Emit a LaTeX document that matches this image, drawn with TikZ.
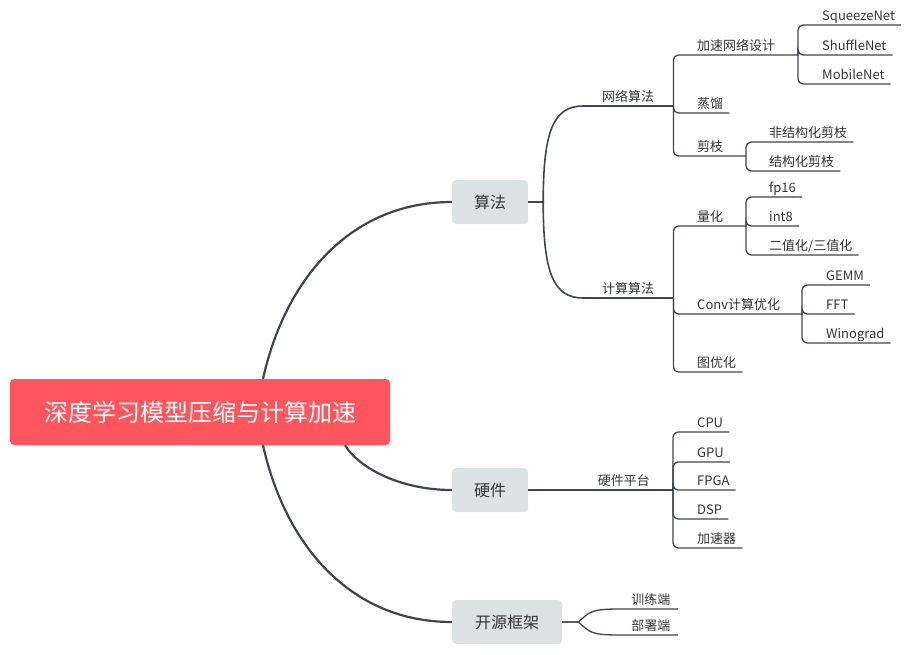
\documentclass[tikz,border=0pt]{standalone}
\usepackage{fontspec}
\setmainfont{Noto Sans CJK SC}
\usepackage{xcolor}
\usetikzlibrary{calc}
\definecolor{rootred}{HTML}{FF555C}
\definecolor{topicgray}{HTML}{DCE2E4}
\definecolor{linegray}{HTML}{3E4551}
\definecolor{textgray}{HTML}{333333}
\tikzset{
    rootbox/.style={draw=none, fill=rootred, rounded corners=4pt, minimum width=380pt, minimum height=66pt, text=white, font=\fontsize{24}{27}\selectfont},
    topicbox/.style={draw=none, fill=topicgray, rounded corners=4pt, minimum width=76pt, minimum height=44pt, text=textgray, font=\fontsize{16}{18}\selectfont},
    midtopic/.style={inner xsep=0pt, inner ysep=4pt, text depth=0pt, text=textgray, font=\fontsize{13}{15}\selectfont},
    leaf/.style={anchor=south west, inner xsep=6pt, inner ysep=4pt, text depth=0pt, text=textgray, font=\fontsize{13}{15}\selectfont},
    mainline/.style={draw=linegray, line width=2.2pt},
    branchline/.style={draw=linegray, line width=1.6pt},
    leafline/.style={draw=linegray, line width=1.3pt, rounded corners=5pt},
}

\begin{document}
\begin{tikzpicture}[x=1pt, y=-1pt]
    \useasboundingbox (0,0) rectangle (909,655);

    % Root
    \node[rootbox] (root) at (200,412) {深度学习模型压缩与计算加速};

    % Main topics
    \node[topicbox] (algo) at (490,202) {算法};
    \node[topicbox] (hw) at (490,490) {硬件};
    \node[topicbox, minimum width=110pt] (oss) at (507,622) {开源框架};

    \draw[mainline] ([xshift=63pt]root.north) .. controls +(22,-99) and +(-102,0) .. (algo.west);
    \draw[mainline] ([xshift=145pt]root.south) .. controls +(15,24) and +(-50,0) .. (hw.west);
    \draw[mainline] ([xshift=63pt]root.south) .. controls +(22,99) and +(-102,0) .. (oss.west);

    % 算法
    \node[midtopic, anchor=south west, minimum width=90pt] (netalg) at (583,106) {网络算法};
    \node[midtopic, anchor=south west, minimum width=90pt] (compalg) at (583,298) {计算算法};
    \draw[branchline] (algo.east) -- ++(15,0) .. controls +(0,-70) and +(-30,0) .. (netalg.south west) -- (netalg.south east);
    \draw[branchline] (algo.east) -- ++(15,0) .. controls +(0,70) and +(-30,0) .. (compalg.south west) -- (compalg.south east);

    % 网络算法
    \node[leaf] (accel) at (691,55) {加速网络设计};
    \node[leaf] (distill) at (691,113) {蒸馏};
    \node[leaf] (prune) at (691,156) {剪枝};
    \coordinate (accelfork) at (798,55);
    \coordinate (prunefork) at (746,156);
    \draw[leafline] (netalg.south east) |- (accelfork);
    \draw[leafline] (netalg.south east) |- (distill.south east);
    \draw[leafline] (netalg.south east) |- (prunefork);

    \node[leaf] (squeeze) at (816,25) {SqueezeNet};
    \node[leaf] (shuffle) at (816,55) {ShuffleNet};
    \node[leaf] (mobile) at (816,84) {MobileNet};
    \foreach \n in {squeeze, shuffle, mobile}
        \draw[leafline] (accelfork) |- (\n.south east);

    \node[leaf] (unstruct) at (763,142) {非结构化剪枝};
    \node[leaf] (struct) at (763,171) {结构化剪枝};
    \foreach \n in {unstruct, struct}
        \draw[leafline] (prunefork) |- (\n.south east);

    % 计算算法
    \node[leaf] (quant) at (691,226) {量化};
    \node[leaf] (convopt) at (691,314) {Conv计算优化};
    \node[leaf] (graphopt) at (691,372) {图优化};
    \coordinate (quantfork) at (746,226);
    \coordinate (convfork) at (802,314);
    \draw[leafline] (compalg.south east) |- (quantfork);
    \draw[leafline] (compalg.south east) |- (convfork);
    \draw[leafline] (compalg.south east) |- (graphopt.south east);

    \node[leaf] (fpsixteen) at (763,197) {fp16};
    \node[leaf] (inteight) at (763,226) {int8};
    \node[leaf] (binary) at (763,255) {二值化/三值化};
    \foreach \n in {fpsixteen, inteight, binary}
        \draw[leafline] (quantfork) |- (\n.south east);

    \node[leaf] (gemm) at (820,285) {GEMM};
    \node[leaf] (fft) at (820,314) {FFT};
    \node[leaf] (winograd) at (820,343) {Winograd};
    \foreach \n in {gemm, fft, winograd}
        \draw[leafline] (convfork) |- (\n.south east);

    % 硬件
    \node[midtopic, anchor=south east, minimum width=98pt] (hwplat) at (673,490) {硬件平台};
    \draw[branchline] (hw.east) -- (hwplat.south east);

    \node[leaf] (cpu) at (691,432) {CPU};
    \node[leaf] (gpu) at (691,462) {GPU};
    \node[leaf] (fpga) at (691,490) {FPGA};
    \node[leaf] (dsp) at (691,519) {DSP};
    \node[leaf] (accelerator) at (691,548) {加速器};
    \foreach \n in {cpu, gpu, fpga, dsp, accelerator}
        \draw[leafline] (hwplat.south east) |- (\n.south east);

    % 开源框架
    \node[midtopic, anchor=south east, minimum width=54pt] (train) at (678,609) {训练端};
    \node[midtopic, anchor=south east, minimum width=54pt] (deploy) at (678,635) {部署端};
    \draw[leafline, rounded corners=0pt] (oss.east) -- ++(16,0) .. controls +(12,-10) and +(-30,0) .. ([xshift=-4pt]train.south west) -- (train.south east);
    \draw[leafline, rounded corners=0pt] (oss.east) -- ++(16,0) .. controls +(12,10) and +(-30,0) .. ([xshift=-4pt]deploy.south west) -- (deploy.south east);
\end{tikzpicture}
\end{document}
